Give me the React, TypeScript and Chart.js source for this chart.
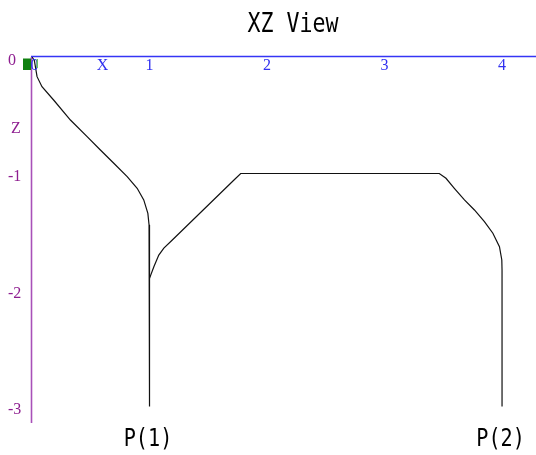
import React, { useEffect, useRef } from "react";
import { Chart, registerables } from "chart.js";

Chart.register(...registerables);

// Tool path P(1): from the origin down and round to the vertical plunge at X=1
const p1X = [0, 0.02, 0.043, 0.085, 0.184, 0.327, 0.469, 0.582, 0.696, 0.81, 0.895, 0.951, 0.986, 0.996, 1.0, 1.0];
const p1Z = [0, -0.03, -0.169, -0.255, -0.369, -0.541, -0.684, -0.798, -0.912, -1.027, -1.127, -1.227, -1.342, -1.44, -1.47, -3.0];

// Tool path P(2): branch off P(1), across the flat at Z=-1, round the corner, down at X=4
const p2X = [1.0, 1.037, 1.079, 1.122, 1.194, 1.719, 1.776, 3.466, 3.523, 3.594, 3.68, 3.765, 3.85, 3.922, 3.978, 3.998, 4.0, 4.0];
const p2Z = [-1.9, -1.8, -1.7, -1.64, -1.571, -1.056, -1.0, -1.0, -1.041, -1.127, -1.227, -1.313, -1.414, -1.513, -1.628, -1.742, -1.83, -3.0];

const xTicks = [0, 1, 2, 3, 4];
const zTicks = [0, -1, -2, -3];
const xAxisName = "X";
const zAxisName = "Z";
const axisNameAt = 0.6;
const pathNames = ["P(1)", "P(2)"];
const pathNameX = [1, 4];
const pathNameZ = -3;
const titleText = "XZ View";

const X_MIN = 0;
const X_MAX = 4.289;
const Z_MIN = -3.1416;
const Z_MAX = 0;

const toPoints = (xs: number[], zs: number[]) => xs.map((x, i) => ({ x, y: zs[i] }));

const condensedText = (
  ctx: CanvasRenderingContext2D,
  text: string,
  x: number,
  y: number,
  font: string,
  squeeze: number,
  color: string
) => {
  ctx.save();
  ctx.translate(x, y);
  ctx.scale(squeeze, 1);
  ctx.font = font;
  ctx.fillStyle = color;
  ctx.textAlign = "center";
  ctx.textBaseline = "alphabetic";
  ctx.fillText(text, 0, 0);
  ctx.restore();
};

const xzViewPlugin = {
  id: "xzView",
  beforeDatasetsDraw(chart: any) {
    const { ctx, chartArea, scales } = chart;
    const xs = scales.x;
    const ys = scales.y;
    const ox = xs.getPixelForValue(0);
    const oy = ys.getPixelForValue(0);
    ctx.save();
    // Z axis (vertical, purple)
    ctx.strokeStyle = "#A850B8";
    ctx.lineWidth = 1.6;
    ctx.beginPath();
    ctx.moveTo(ox - 0.5, oy);
    ctx.lineTo(ox - 0.5, chartArea.bottom);
    ctx.stroke();
    // X axis (horizontal, blue)
    ctx.strokeStyle = "#3535F5";
    ctx.lineWidth = 1.5;
    ctx.beginPath();
    ctx.moveTo(ox - 1, oy - 0.5);
    ctx.lineTo(chartArea.right, oy - 0.5);
    ctx.stroke();
    ctx.restore();
  },
  afterDatasetsDraw(chart: any) {
    const { ctx, scales } = chart;
    const xs = scales.x;
    const ys = scales.y;
    const ox = xs.getPixelForValue(0);
    const oy = ys.getPixelForValue(0);
    ctx.save();

    // X tick labels under the X axis
    ctx.font = "16px 'Liberation Serif', serif";
    ctx.fillStyle = "#3030F0";
    ctx.textAlign = "center";
    ctx.textBaseline = "alphabetic";
    xTicks.forEach((v) => {
      const px = xs.getPixelForValue(v) + (v === 0 ? 2.5 : 0);
      ctx.fillText(String(v), px, oy + 12.5);
    });
    ctx.fillText(xAxisName, xs.getPixelForValue(axisNameAt), oy + 12.5);

    // Z tick labels left of the Z axis
    ctx.fillStyle = "#8E1E90";
    ctx.textAlign = "left";
    zTicks.forEach((v) => {
      const label = v === 0 ? "0" : "-" + String(Math.abs(v));
      ctx.fillText(label, 8, ys.getPixelForValue(v) + 7.5);
    });
    ctx.fillText(zAxisName, 11, ys.getPixelForValue(-axisNameAt) + 6.5);

    // Tool marker at the origin
    ctx.fillStyle = "#0F800F";
    ctx.fillRect(ox - 9, oy + 1.5, 8, 11.5);
    ctx.fillStyle = "#66C266";
    ctx.fillRect(ox + 4.5, oy + 2, 1.5, 9);

    ctx.restore();

    // Title
    condensedText(
      ctx,
      titleText,
      293,
      31.5,
      "27px 'DejaVu Sans Mono', monospace",
      0.8,
      "#000"
    );

    // Path names under the plunge lines
    pathNames.forEach((name, i) => {
      const px = xs.getPixelForValue(pathNameX[i]) - 1.5;
      const py = ys.getPixelForValue(pathNameZ) + 39;
      condensedText(ctx, name, px, py, "24px 'DejaVu Sans Mono', monospace", 0.84, "#000");
    });
  },
};

export default function App() {
  const canvasRef = useRef<HTMLCanvasElement | null>(null);

  useEffect(() => {
    const canvas = canvasRef.current;
    if (!canvas) return;
    const lineStyle = {
      showLine: true,
      borderColor: "#111",
      borderWidth: 1.2,
      pointRadius: 0,
      pointHoverRadius: 0,
      tension: 0,
      fill: false,
    };
    const chart = new Chart(canvas, {
      type: "scatter",
      data: {
        datasets: [
          { label: pathNames[0], data: toPoints(p1X, p1Z), ...lineStyle },
          { label: pathNames[1], data: toPoints(p2X, p2Z), ...lineStyle },
        ],
      },
      options: {
        animation: false,
        responsive: false,
        maintainAspectRatio: false,
        devicePixelRatio: 1,
        layout: { padding: { left: 32, top: 57, right: 0, bottom: 32 } },
        plugins: {
          legend: { display: false },
          tooltip: { enabled: false },
          title: { display: false },
        },
        scales: {
          x: { type: "linear", min: X_MIN, max: X_MAX, display: false },
          y: { type: "linear", min: Z_MIN, max: Z_MAX, display: false },
        },
      },
      plugins: [xzViewPlugin],
    });
    return () => chart.destroy();
  }, []);

  return (
    <div
      style={{
        position: "fixed",
        left: 0,
        top: 0,
        width: 536,
        height: 455,
        background: "#fff",
      }}
    >
      <canvas ref={canvasRef} width={536} height={455} style={{ width: 536, height: 455 }} />
    </div>
  );
}
